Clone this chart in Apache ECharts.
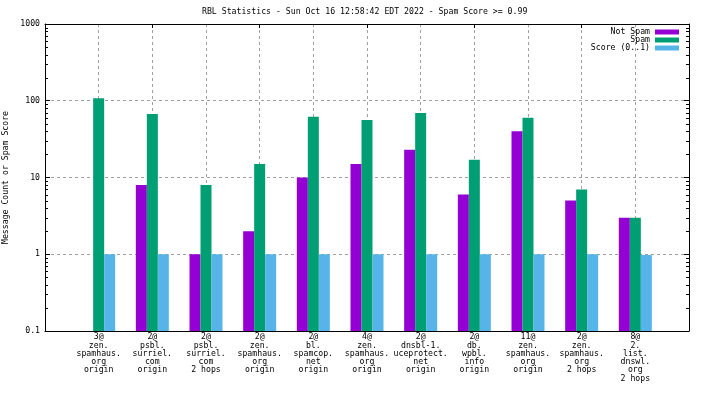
<!DOCTYPE html>
<html>
<head>
<meta charset="utf-8">
<script src="https://cdn.jsdelivr.net/npm/echarts@6/dist/echarts.min.js"></script>
<style>
    html, body {margin: 0; padding: 0; background: #fff;}
    #chart {width: 704px; height: 396px;}
</style>
</head>
<body>
<div id="chart"></div>
<script>
const title = 'RBL Statistics - Sun Oct 16 12:58:42 EDT 2022 - Spam Score >= 0.99';

// blank slots at both ends keep the gnuplot-style 0..12 x range
const categories = [
    '',
    '3@\nzen.\nspamhaus.\norg\norigin',
    '2@\npsbl.\nsurriel.\ncom\norigin',
    '2@\npsbl.\nsurriel.\ncom\n2 hops',
    '2@\nzen.\nspamhaus.\norg\norigin',
    '2@\nbl.\nspamcop.\nnet\norigin',
    '4@\nzen.\nspamhaus.\norg\norigin',
    '2@\ndnsbl-1.\nuceprotect.\nnet\norigin',
    '2@\ndb.\nwpbl.\ninfo\norigin',
    '11@\nzen.\nspamhaus.\norg\norigin',
    '2@\nzen.\nspamhaus.\norg\n2 hops',
    '8@\n2.\nlist.\ndnswl.\norg\n2 hops',
    '',
];

const notSpam = [null, 0, 8, 1, 2, 10, 15, 23, 6, 40, 5, 3, null];
const spam = [null, 108, 67, 8, 15, 62, 56, 69, 17, 60, 7, 3, null];
const score = [null, 1, 1, 1, 1, 1, 1, 1, 1, 1, 1, 0.98, null];

const yTickLabels = {0.1: '0.1', 1: '1', 10: '10', 100: '100', 1000: '1000'};
const minorTicks = [
    0.2, 0.3, 0.4, 0.5, 0.6, 0.7, 0.8, 0.9,
    2, 3, 4, 5, 6, 7, 8, 9,
    20, 30, 40, 50, 60, 70, 80, 90,
    200, 300, 400, 500, 600, 700, 800, 900,
];

const font = 'DejaVu Sans Mono';
const fontSize = 8.2;
const gridLine = {show: true, lineStyle: {color: '#a0a0a0', type: [3, 3], width: 1}};
const border = {show: true, lineStyle: {color: '#000', width: 1}};

const logValue = v => (v > 0 ? v : '-');

const bar = (name, data, color) => ({
    name,
    type: 'bar',
    data: data.map(logValue),
    barWidth: 11,
    barGap: '0%',
    itemStyle: {color},
    animation: false,
});

const chart = echarts.init(document.getElementById('chart'), null, {renderer: 'canvas'});

chart.setOption({
    animation: false,
    textStyle: {fontFamily: font, fontSize, color: '#000'},
    title: {
        text: title,
        left: 202,
        top: 8,
        padding: 0,
        textStyle: {fontFamily: font, fontSize, fontWeight: 'normal', color: '#000'},
    },
    legend: {
        data: ['Not Spam', 'Spam', 'Score (0..1)'],
        orient: 'vertical',
        align: 'right',
        right: 25,
        top: 28,
        padding: 0,
        itemWidth: 24,
        itemHeight: 5,
        itemGap: 0,
        icon: 'rect',
        textStyle: {fontFamily: font, fontSize, color: '#000', lineHeight: 7.6},
        selectedMode: false,
    },
    grid: {left: 45, right: 15, top: 24, bottom: 65, containLabel: false, outerBoundsMode: 'none'},
    xAxis: [
        {
            type: 'category',
            data: categories,
            boundaryGap: false,
            axisLine: border,
            axisTick: {show: true, inside: true, length: 4, lineStyle: {color: '#000'}},
            axisLabel: {
                interval: 0,
                margin: 2,
                fontFamily: font,
                fontSize,
                lineHeight: 8.3,
                color: '#000',
            },
            splitLine: {...gridLine, interval: (i) => i > 0 && i < categories.length - 1},
        },
        {
            type: 'category',
            data: categories,
            boundaryGap: false,
            position: 'top',
            axisLine: border,
            axisTick: {show: true, inside: true, length: 4, lineStyle: {color: '#000'}},
            axisLabel: {show: false},
            splitLine: {show: false},
        },
    ],
    yAxis: [
        {
            type: 'log',
            logBase: 10,
            min: 0.1,
            max: 1000,
            startValue: 0.1,
            name: 'Message Count or Spam Score',
            nameLocation: 'middle',
            nameGap: 34,
            nameTextStyle: {fontFamily: font, fontSize, color: '#000'},
            axisLine: border,
            axisTick: {show: true, inside: true, length: 5, lineStyle: {color: '#000'}},
            axisLabel: {
                margin: 5,
                fontFamily: font,
                fontSize,
                color: '#000',
                formatter: v => yTickLabels[+v.toPrecision(3)] ?? String(v),
            },
            splitLine: gridLine,
        },
        {
            type: 'log',
            logBase: 10,
            min: 0.1,
            max: 1000,
            position: 'right',
            axisLine: border,
            axisTick: {show: true, inside: true, length: 5, lineStyle: {color: '#000'}},
            axisLabel: {show: false},
            splitLine: {show: false},
        },
    ],
    series: [
        bar('Not Spam', notSpam, '#9400d3'),
        bar('Spam', spam, '#009e73'),
        bar('Score (0..1)', score, '#56b4e9'),
        {
            // minor log ticks on both y borders
            type: 'custom',
            silent: true,
            animation: false,
            data: minorTicks.map(v => [0, v]),
            renderItem: (params, api) => {
                const y = Math.round(api.coord([0, api.value(1)])[1]) + 0.5;
                const cs = params.coordSys;
                const style = {stroke: '#000', lineWidth: 1};
                return {
                    type: 'group',
                    children: [
                        {type: 'line', shape: {x1: cs.x, y1: y, x2: cs.x + 3, y2: y}, style},
                        {type: 'line', shape: {x1: cs.x + cs.width - 3, y1: y, x2: cs.x + cs.width, y2: y}, style},
                    ],
                };
            },
            z: 5,
        },
    ],
});
</script>
</body>
</html>
